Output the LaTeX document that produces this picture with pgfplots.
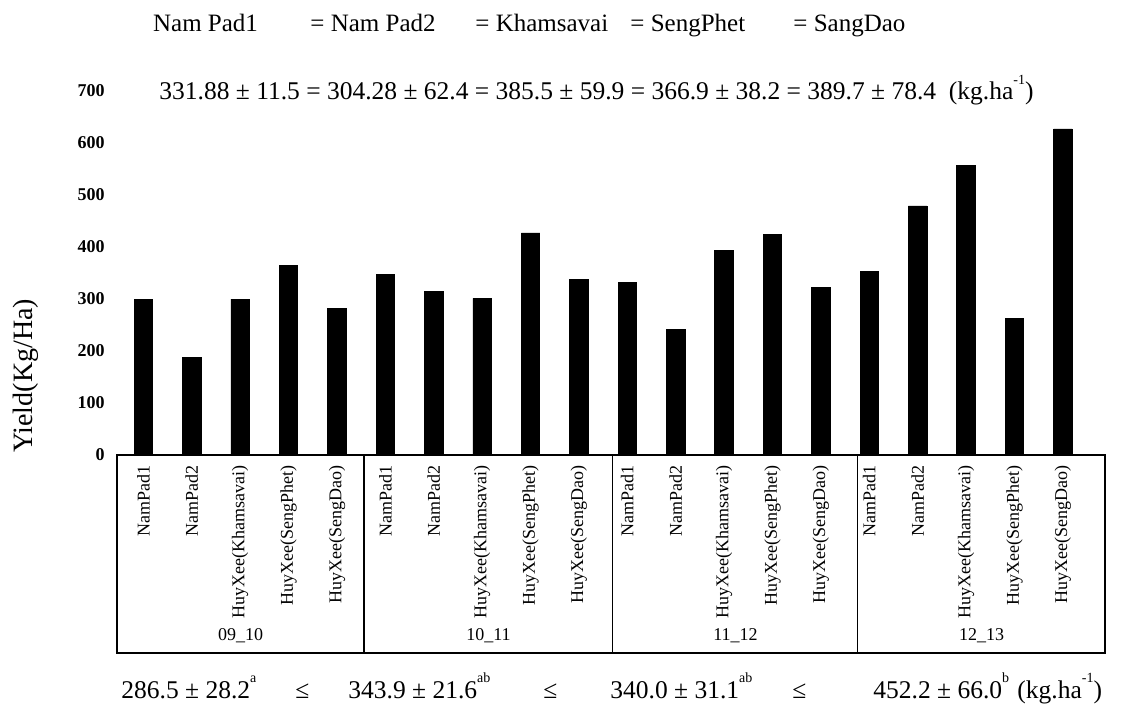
\documentclass[border=0pt]{standalone}
\usepackage{fontspec}
\setmainfont{Liberation Serif}
\usepackage{graphicx}
\usepackage{pgfplots}
\pgfplotsset{compat=1.18}
\newcommand{\sps}[1]{\raisebox{0.62em}{\fontsize{7}{7}\selectfont #1}}
\begin{document}
\begin{tikzpicture}
\begin{axis}[name=ax, at={(0,0)}, anchor=south west,
  scale only axis, width=494pt, height=182pt,
  xmin=-0.545, xmax=19.87, ymin=0, ymax=700,
  axis x line*=bottom, axis y line*=left,
  x axis line style={draw=none}, y axis line style={draw=none},
  ytick={0,100,...,700}, major tick length=0pt,
  xtick={0,...,19},
  xticklabels={NamPad1,NamPad2,HuyXee(Khamsavai),HuyXee(SengPhet),HuyXee(SengDao),
               NamPad1,NamPad2,HuyXee(Khamsavai),HuyXee(SengPhet),HuyXee(SengDao),
               NamPad1,NamPad2,HuyXee(Khamsavai),HuyXee(SengPhet),HuyXee(SengDao),
               NamPad1,NamPad2,HuyXee(Khamsavai),HuyXee(SengPhet),HuyXee(SengDao)},
  xticklabel style={rotate=90, anchor=east, inner sep=0pt, font=\fontsize{9}{9}\selectfont},
  xticklabel shift=5pt,
  yticklabel style={anchor=east, inner sep=0pt, font=\bfseries\fontsize{9}{9}\selectfont},
  yticklabel shift=6pt,
  /pgf/number format/assume math mode=true,
  clip=false]
\addplot[ybar, bar width=9.25pt, fill=black, draw=black] coordinates {
  (0,300) (1,187) (2,300) (3,365) (4,282)
  (5,348) (6,315) (7,301) (8,427) (9,337)
  (10,332) (11,241) (12,394) (13,424) (14,323)
  (15,353) (16,479) (17,557) (18,263) (19,627)};
\draw[line width=0.6pt] (axis cs:-0.545,0) rectangle (axis cs:19.87,-380.8);
\draw[line width=0.6pt] (axis cs:4.558,0) -- (axis cs:4.558,-380.8);
\draw[line width=0.6pt] (axis cs:9.70,0) -- (axis cs:9.70,-380.8);
\draw[line width=0.6pt] (axis cs:14.76,0) -- (axis cs:14.76,-380.8);
\end{axis}
\begin{scope}[x=0.5pt, y=-0.5pt, shift={(-117,-455)}]
  \tikzset{t1/.style={anchor=base west, inner sep=0pt, font=\fontsize{12.5}{12.5}\selectfont}}
  \node[t1] at (152.7,32) {Nam Pad1};
  \node[t1] at (310,32) {= Nam Pad2};
  \node[t1] at (475,32) {= Khamsavai};
  \node[t1] at (630,32) {= SengPhet};
  \node[t1] at (793,32) {= SangDao};
  \node[anchor=base west, inner sep=0pt, font=\fontsize{12.75}{12.75}\selectfont] at (159,100) {331.88 ± 11.5 = 304.28 ± 62.4 = 385.5 ± 59.9 = 366.9 ± 38.2 = 389.7 ± 78.4\ \ (kg.ha\sps{-1})};
  \node[rotate=90, inner sep=0pt, font=\fontsize{14}{14}\selectfont] at (26,376) {Yield(Kg/Ha)};
  \tikzset{g/.style={anchor=base, inner sep=0pt, font=\fontsize{9}{9}\selectfont}}
  \node[g] at (240.5,640) {09\_10};
  \node[g] at (488.5,640) {10\_11};
  \node[g] at (735.5,640) {11\_12};
  \node[g] at (981.5,640) {12\_13};
  \tikzset{b/.style={anchor=base west, inner sep=0pt, font=\fontsize{12.75}{12.75}\selectfont}}
  \node[b] at (121,698) {286.5 ± 28.2\sps{a}};
  \node[b] at (295,698) {≤};
  \node[b] at (348,698) {343.9 ± 21.6\sps{ab}};
  \node[b] at (543,698) {≤};
  \node[b] at (610,698) {340.0 ± 31.1\sps{ab}};
  \node[b] at (792,698) {≤};
  \node[b] at (873,698) {452.2 ± 66.0\sps{b}};
  \node[b] at (1017,698) {(kg.ha\sps{-1})};
  \pgfresetboundingbox
  \path[use as bounding box] (0,0) rectangle (1128,706);
\end{scope}
\end{tikzpicture}
\end{document}
